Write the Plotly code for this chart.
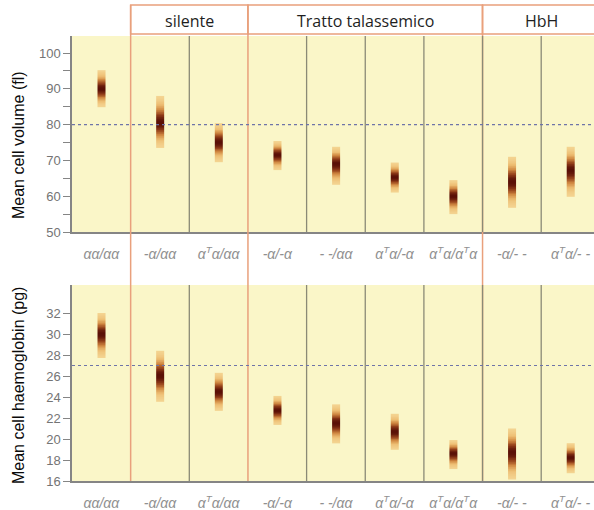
import numpy as np
import plotly.graph_objects as go

# ---------------- data ----------------
genotypes = ["αα/αα", "-α/αα", "α<sup>T</sup>α/αα", "-α/-α", "- -/αα",
             "α<sup>T</sup>α/-α", "α<sup>T</sup>α/α<sup>T</sup>α", "-α/- -", "α<sup>T</sup>α/- -"]

mcv_center = [90.0, 80.5, 75.0, 71.5, 69.0, 65.3, 60.0, 64.0, 67.3]
mcv_low    = [85.0, 73.5, 69.4, 67.3, 63.1, 61.1, 55.0, 56.8, 59.9]
mcv_high   = [95.2, 88.0, 80.4, 75.4, 73.8, 69.4, 64.5, 71.0, 73.8]

mch_center = [30.0, 26.0, 24.5, 22.7, 21.5, 20.7, 18.6, 18.7, 18.2]
mch_low    = [27.7, 23.5, 22.7, 21.3, 19.6, 19.0, 17.1, 16.1, 16.7]
mch_high   = [32.0, 28.4, 26.3, 24.1, 23.3, 22.4, 19.9, 21.0, 19.6]

group_names  = ["silente", "Tratto talassemico", "HbH"]
group_first  = [2, 4, 8]
group_last   = [3, 7, 9]

mcv_ref = 80
mch_ref = 27

mcv_ticks = [50, 60, 70, 80, 90, 100]
mch_ticks = [16, 18, 20, 22, 24, 26, 28, 30, 32]

# ---------------- styling ----------------
W, H = 594, 510
STRIP_HALF = 0.065
ORANGE = "#E9A07C"
DARK = "#8A8A76"
AXIS = "#858585"
BG = "#FAF6C8"
colorscale = [[0.0, "#F6DC9C"], [0.3, "#EDBD72"], [0.55, "#CF8640"],
              [0.8, "#94401A"], [1.0, "#5A1006"]]

def py(p):  # pixel row -> paper y
    return 1 - p / H

fig = go.Figure()

def add_strips(centers, lows, highs, xa, ya):
    for i, (c, lo, hi) in enumerate(zip(centers, lows, highs)):
        xc = i + 1
        edges = np.linspace(lo, hi, 81)
        mids = (edges[:-1] + edges[1:]) / 2
        t = np.where(mids >= c, (mids - c) / (hi - c), (c - mids) / (c - lo))
        z = np.exp(-2.6 * t ** 2)[:, None]
        fig.add_trace(go.Heatmap(
            x=[xc - STRIP_HALF, xc + STRIP_HALF], y=edges, z=z,
            xaxis=xa, yaxis=ya, colorscale=colorscale, zmin=0, zmax=1,
            showscale=False, hoverinfo="skip"))

add_strips(mcv_center, mcv_low, mcv_high, "x", "y")
add_strips(mch_center, mch_low, mch_high, "x2", "y2")

xdom = [72 / W, 1.0]
top_dom = [py(232), py(36)]
bot_dom = [py(481), py(285)]
xrange_ = [0.5, 0.5 + (W - 72) / 58.65]

ticktext = ["<i>%s</i>" % g for g in genotypes]
xcommon = dict(domain=xdom, range=xrange_, tickvals=list(range(1, 10)),
               ticktext=ticktext, showline=True, linecolor=AXIS, linewidth=1.5,
               showgrid=False, zeroline=False, ticks="", ticklabelstandoff=8,
               tickfont=dict(family="Liberation Sans, Arial", size=14, color="#909090"),
               automargin=False, fixedrange=True)
ycommon = dict(showline=True, linecolor=AXIS, linewidth=1.5, showgrid=False,
               zeroline=False, ticks="outside", ticklen=7, tickcolor=AXIS,
               tickwidth=1.2, automargin=False,
               tickfont=dict(family="Liberation Sans, Arial", size=13, color="#747474"))
title_font = dict(family="Liberation Sans, Arial", size=16, color="#0A0A0A")

fig.update_layout(
    width=W, height=H, margin=dict(l=0, r=0, t=0, b=0),
    paper_bgcolor="white", plot_bgcolor=BG, showlegend=False,
    xaxis=dict(anchor="y", **xcommon),
    xaxis2=dict(anchor="y2", **xcommon),
    yaxis=dict(anchor="x", domain=top_dom, range=[50, 50 + (232 - 36) / 3.58],
               tickvals=mcv_ticks, minor=dict(dtick=5, ticks="outside", ticklen=7,
                                              tickcolor=AXIS, tickwidth=1.2),
               **ycommon),
    yaxis2=dict(anchor="x2", domain=bot_dom, range=[16, 16 + (481 - 285) / 10.5],
                tickvals=mch_ticks, **ycommon),
)

# y-axis titles
fig.add_annotation(x=18 / W, y=py(145), xref="paper", yref="paper", text="Mean cell volume (fl)",
                   textangle=-90, showarrow=False, xanchor="center", yanchor="middle",
                   font=title_font)
fig.add_annotation(x=18 / W, y=py(386), xref="paper", yref="paper", text="Mean cell haemoglobin (pg)",
                   textangle=-90, showarrow=False, xanchor="center", yanchor="middle",
                   font=title_font)

shapes = []
# header boxes
for name, a, b in zip(group_names, group_first, group_last):
    shapes.append(dict(type="rect", xref="x", yref="paper", x0=a - 0.5, x1=b + 0.5,
                       y0=py(34), y1=py(5), fillcolor="white",
                       line=dict(color=ORANGE, width=1.5), layer="below"))
    fig.add_annotation(x=(a + b) / 2, y=py(21), xref="x", yref="paper",
                       text=name, showarrow=False, xanchor="center", yanchor="middle",
                       font=dict(family="Open Sans, Liberation Sans", size=16, color="#1E1E1E"))
# orange group boundaries
for a in group_first:
    shapes.append(dict(type="line", xref="x", yref="paper", x0=a - 0.5, x1=a - 0.5,
                       y0=bot_dom[0], y1=py(5), line=dict(color=ORANGE, width=1.5)))
# dark column separators inside the plots
group_bounds = [a - 0.5 for a in group_first[:2]]
for k in range(1, 9):
    xb = k + 0.5
    if xb in group_bounds:
        continue
    for yr in ["y domain", "y2 domain"]:
        shapes.append(dict(type="line", xref="x", yref=yr, x0=xb, x1=xb, y0=0, y1=1,
                           line=dict(color=DARK, width=1.3)))
# reference lines
shapes.append(dict(type="line", xref="x domain", yref="y", x0=0, x1=1, y0=mcv_ref, y1=mcv_ref,
                   line=dict(color="#6E74A8", width=1.2, dash="dot")))
shapes.append(dict(type="line", xref="x2 domain", yref="y2", x0=0, x1=1, y0=mch_ref, y1=mch_ref,
                   line=dict(color="#6E74A8", width=1.2, dash="dot")))
fig.update_layout(shapes=shapes)

fig.write_html("out.html")
